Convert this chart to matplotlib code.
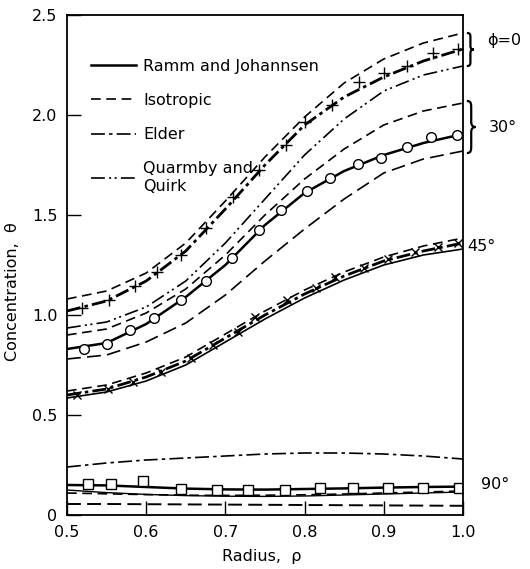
import matplotlib
matplotlib.use("Agg")
import matplotlib.pyplot as plt
from matplotlib.path import Path
from matplotlib.patches import PathPatch
from matplotlib.lines import Line2D

plt.rcParams["font.family"] = ["DejaVu Sans"]
plt.rcParams["lines.scale_dashes"] = False

radius = [0.5, 0.55, 0.6, 0.65, 0.7, 0.75, 0.8, 0.85, 0.9, 0.95, 1.0]

# phi = 0
iso_0 = [1.08, 1.12, 1.21, 1.36, 1.57, 1.79, 1.99, 2.16, 2.28, 2.36, 2.41]
elder_0 = [1.02, 1.07, 1.17, 1.32, 1.53, 1.75, 1.95, 2.09, 2.19, 2.27, 2.33]
quarmby_0 = [0.935, 0.965, 1.04, 1.17, 1.36, 1.58, 1.80, 1.98, 2.12, 2.20, 2.245]

# phi = 30
iso_30 = [0.90, 0.93, 1.01, 1.13, 1.30, 1.50, 1.68, 1.83, 1.95, 2.02, 2.06]
ramm_30 = [0.83, 0.86, 0.955, 1.09, 1.25, 1.45, 1.61, 1.72, 1.80, 1.86, 1.905]
quarmby_30 = [0.78, 0.80, 0.865, 0.96, 1.10, 1.27, 1.43, 1.58, 1.71, 1.78, 1.82]

# phi = 45
iso_45 = [0.62, 0.65, 0.71, 0.79, 0.905, 1.02, 1.125, 1.215, 1.29, 1.345, 1.385]
elder_45 = [0.60, 0.63, 0.69, 0.77, 0.885, 1.0, 1.105, 1.195, 1.27, 1.32, 1.36]
ramm_45 = [0.585, 0.615, 0.67, 0.75, 0.865, 0.98, 1.085, 1.175, 1.25, 1.30, 1.33]

# phi = 90
elder_90 = [0.24, 0.26, 0.275, 0.285, 0.295, 0.305, 0.31, 0.31, 0.305, 0.295, 0.28]
ramm_90 = [0.15, 0.148, 0.14, 0.132, 0.128, 0.127, 0.13, 0.133, 0.137, 0.14, 0.142]
quarmby_90 = [0.125, 0.112, 0.103, 0.097, 0.094, 0.093, 0.095, 0.10, 0.105, 0.11, 0.115]
iso_90 = [0.11, 0.106, 0.102, 0.099, 0.098, 0.099, 0.101, 0.105, 0.11, 0.115, 0.12]
iso2_90 = [0.055, 0.055, 0.054, 0.053, 0.052, 0.051, 0.05, 0.049, 0.048, 0.047, 0.046]

# measured points
plus_x = [0.519, 0.553, 0.586, 0.614, 0.644, 0.675, 0.71, 0.743, 0.776, 0.801, 0.835, 0.869, 0.90, 0.93, 0.962, 0.994]
plus_y = [1.035, 1.075, 1.145, 1.215, 1.30, 1.435, 1.59, 1.725, 1.85, 1.965, 2.05, 2.165, 2.21, 2.245, 2.31, 2.33]
circle_x = [0.521, 0.55, 0.579, 0.61, 0.644, 0.676, 0.708, 0.742, 0.77, 0.803, 0.832, 0.867, 0.896, 0.929, 0.96, 0.992]
circle_y = [0.83, 0.855, 0.925, 0.985, 1.075, 1.17, 1.285, 1.425, 1.525, 1.62, 1.685, 1.755, 1.785, 1.84, 1.89, 1.90]
cross_x = [0.513, 0.552, 0.583, 0.619, 0.656, 0.685, 0.716, 0.738, 0.778, 0.814, 0.839, 0.875, 0.906, 0.94, 0.968, 0.994]
cross_y = [0.60, 0.63, 0.665, 0.715, 0.785, 0.85, 0.915, 0.99, 1.075, 1.135, 1.19, 1.235, 1.28, 1.315, 1.34, 1.36]
square_x = [0.527, 0.556, 0.596, 0.644, 0.69, 0.729, 0.775, 0.819, 0.861, 0.905, 0.95, 0.995]
square_y = [0.155, 0.155, 0.17, 0.128, 0.125, 0.125, 0.125, 0.135, 0.135, 0.135, 0.135, 0.135]

x_ticks = [0.5, 0.6, 0.7, 0.8, 0.9, 1.0]
x_labels = ["0.5", "0.6", "0.7", "0.8", "0.9", "1.0"]
y_ticks = [0, 0.5, 1.0, 1.5, 2.0, 2.5]
y_labels = ["0", "0.5", "1.0", "1.5", "2.0", "2.5"]

# line styles (points)
SOLID = "-"
DASH = (0, (7, 4))
LONGDASH = (0, (10, 4.5))
DASHDOT = (0, (10, 3, 2.5, 3))
DASHDOTDOT = (0, (10, 3, 1.5, 2.5, 1.5, 3))
K = "black"


def brace(ax, x, y0, y1, w):
    ym = (y0 + y1) / 2
    h = y1 - y0
    xm = x + w * 0.5
    verts = [(x, y1),
             (xm, y1), (xm, y1 - 0.05 * h), (xm, y1 - 0.15 * h),
             (xm, ym + 0.1 * h),
             (xm, ym + 0.03 * h), (x + w * 0.7, ym), (x + w, ym),
             (x + w * 0.7, ym), (xm, ym - 0.03 * h), (xm, ym - 0.1 * h),
             (xm, y0 + 0.15 * h),
             (xm, y0 + 0.05 * h), (xm, y0), (x, y0)]
    codes = [Path.MOVETO,
             Path.CURVE4, Path.CURVE4, Path.CURVE4,
             Path.LINETO,
             Path.CURVE4, Path.CURVE4, Path.CURVE4,
             Path.CURVE4, Path.CURVE4, Path.CURVE4,
             Path.LINETO,
             Path.CURVE4, Path.CURVE4, Path.CURVE4]
    ax.add_patch(PathPatch(Path(verts, codes), fill=False, lw=1.6, color=K, clip_on=False))


fig = plt.figure(figsize=(5.3, 5.69), dpi=100)
ax = fig.add_axes([0.1264, 0.0949, 0.747, 0.8787])

# phi = 0
ax.plot(radius, iso_0, color=K, lw=1.2, ls=DASH)
ax.plot(radius, elder_0, color=K, lw=2.0, ls=DASHDOT)
ax.plot(radius, quarmby_0, color=K, lw=1.2, ls=DASHDOTDOT)
ax.plot(plus_x, plus_y, ls="none", marker="+", ms=8, mew=1.0, color=K)

# phi = 30
ax.plot(radius, iso_30, color=K, lw=1.2, ls=DASH)
ax.plot(radius, ramm_30, color=K, lw=1.8, ls=SOLID)
ax.plot(radius, quarmby_30, color=K, lw=1.2, ls=LONGDASH)
ax.plot(circle_x, circle_y, ls="none", marker="o", ms=7, mew=1.0, mfc="white", color=K)

# phi = 45
ax.plot(radius, iso_45, color=K, lw=1.2, ls=DASH)
ax.plot(radius, elder_45, color=K, lw=2.0, ls=DASHDOT)
ax.plot(radius, ramm_45, color=K, lw=1.2, ls=SOLID)
ax.plot(cross_x, cross_y, ls="none", marker="x", ms=5.5, mew=1.0, color=K)

# phi = 90
ax.plot(radius, elder_90, color=K, lw=1.2, ls=DASHDOT)
ax.plot(radius, ramm_90, color=K, lw=1.8, ls=SOLID)
ax.plot(radius, quarmby_90, color=K, lw=1.0, ls=SOLID)
ax.plot(radius, iso_90, color=K, lw=1.2, ls=DASH)
ax.plot(radius, iso2_90, color=K, lw=1.4, ls=LONGDASH)
ax.plot(square_x, square_y, ls="none", marker="s", ms=7, mew=1.0, mfc="white", color=K)

ax.set_xlim(0.5, 1.0)
ax.set_ylim(0, 2.5)
ax.set_xticks(x_ticks)
ax.set_xticklabels(x_labels)
ax.set_yticks(y_ticks)
ax.set_yticklabels(y_labels)
ax.tick_params(direction="in", length=10, width=1.0, labelsize=11.5, pad=7)
for s in ax.spines.values():
    s.set_linewidth(1.3)

ax.set_xlabel("Radius,  ρ", fontsize=11.5)
ax.set_ylabel("Concentration,  θ", fontsize=11.5)
ax.xaxis.set_label_coords(0.492, -0.068)
ax.yaxis.set_label_coords(-0.119, 0.446)

# group labels at the right
ax.text(1.03, 2.375, "ϕ=0", fontsize=11.5, va="center", clip_on=False)
ax.text(1.033, 1.94, "30°", fontsize=11.5, va="center", clip_on=False)
ax.text(1.005, 1.345, "45°", fontsize=11.5, va="center", clip_on=False)
ax.text(1.023, 0.155, "90°", fontsize=11.5, va="center", clip_on=False)
brace(ax, 1.005, quarmby_0[-1], iso_0[-1], 0.009)
brace(ax, 1.005, quarmby_30[-1] - 0.01, iso_30[-1] + 0.01, 0.011)

handles = [
    Line2D([], [], color=K, lw=1.8, ls=SOLID),
    Line2D([], [], color=K, lw=1.2, ls=DASH),
    Line2D([], [], color=K, lw=1.2, ls=DASHDOT),
    Line2D([], [], color=K, lw=1.2, ls=DASHDOTDOT),
]
labels = ["Ramm and Johannsen", "Isotropic", "Elder", "Quarmby and\nQuirk"]
ax.legend(handles, labels, loc="upper left", bbox_to_anchor=(0.045, 0.925),
          frameon=False, fontsize=11.5, handlelength=2.8, handletextpad=0.45,
          labelspacing=1.2, borderaxespad=0)

fig.savefig("out.png", dpi=100)
